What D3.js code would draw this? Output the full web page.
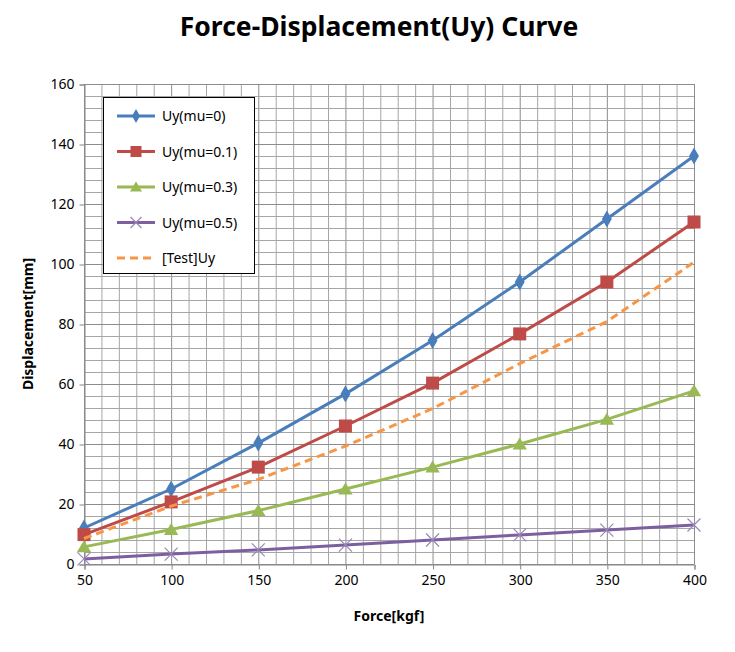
<!DOCTYPE html>
<html><head><meta charset="utf-8">
<script src="https://cdn.jsdelivr.net/npm/d3@7"></script>
<style>body{margin:0;background:#fff}svg{display:block}</style>
</head><body>
<svg id="c" width="735" height="652"></svg>
<script>
const forces = [50,100,150,200,250,300,350,400];
const uyMu0   = [12, 25, 40.3, 56.7, 74.5, 94, 115, 136];
const uyMu01  = [9.8, 20.7, 32.3, 46, 60.3, 76.7, 94, 114];
const uyMu03  = [5.7, 11.5, 17.8, 25, 32.3, 40, 48.2, 57.7];
const uyMu05  = [1.7, 3.3, 4.7, 6.3, 8, 9.7, 11.3, 13];
const testUy  = [8.5, 19.3, 28.2, 39.3, 51.8, 66.8, 80.8, 100.6];
const seriesNames = ["Uy(mu=0)","Uy(mu=0.1)","Uy(mu=0.3)","Uy(mu=0.5)","[Test]Uy"];
const xTicks = [50,100,150,200,250,300,350,400];
const yTicks = [0,20,40,60,80,100,120,140,160];

const series = [
  {name:seriesNames[0], vals:uyMu0, color:"#4A7EBB", marker:"diamond"},
  {name:seriesNames[1], vals:uyMu01, color:"#BE4B48", marker:"square"},
  {name:seriesNames[2], vals:uyMu03, color:"#98B954", marker:"triangle"},
  {name:seriesNames[3], vals:uyMu05, color:"#7D5FA0", marker:"x"},
  {name:seriesNames[4], vals:testUy, color:"#F79646", marker:"none", dash:"8,5"}
];

const svg = d3.select("#c");
const L=84, R=694, T=84, B=564;
const x = d3.scaleLinear().domain([50,400]).range([L,R]);
const y = d3.scaleLinear().domain([0,160]).range([B,T]);
const font = "'Noto Sans', 'Open Sans', sans-serif";

// grid
const g = svg.append("g");
g.selectAll("line.vx").data(d3.range(50,401,10)).enter().append("line")
  .attr("x1",d=>x(d)+0.5).attr("x2",d=>x(d)+0.5).attr("y1",T).attr("y2",B)
  .attr("stroke",d=>d%50===0?"#8c8c8c":"#a6a6a6").attr("stroke-width",1);
g.selectAll("line.hy").data(d3.range(0,161,4)).enter().append("line")
  .attr("y1",d=>y(d)+0.5).attr("y2",d=>y(d)+0.5).attr("x1",L).attr("x2",R)
  .attr("stroke",d=>d%20===0?"#8c8c8c":"#a6a6a6").attr("stroke-width",1);

// axes
const xAxis = d3.axisBottom(x).tickValues(xTicks).tickSize(5).tickPadding(6);
const yAxis = d3.axisLeft(y).tickValues(yTicks).tickSize(5).tickPadding(5);
const gx = svg.append("g").attr("transform",`translate(0.5,${B+0.5})`).call(xAxis);
const gy = svg.append("g").attr("transform",`translate(${L+0.5},0.5)`).call(yAxis);
[gx,gy].forEach(a=>{
  a.select(".domain").attr("stroke","#868686");
  a.selectAll(".tick line").attr("stroke","#868686");
  a.selectAll("text").attr("font-family",font).attr("font-size",14).attr("fill","#000");
});

// titles
svg.append("text").attr("x",379).attr("y",36).attr("text-anchor","middle")
  .attr("font-family",font).attr("font-weight","bold").attr("font-size",26.5).text("Force-Displacement(Uy) Curve");
svg.append("text").attr("x",389).attr("y",621).attr("text-anchor","middle")
  .attr("font-family",font).attr("font-weight","bold").attr("font-size",14).text("Force[kgf]");
svg.append("text").attr("transform","translate(33,324) rotate(-90)").attr("text-anchor","middle")
  .attr("font-family",font).attr("font-weight","bold").attr("font-size",14).text("Displacement[mm]");

function drawMarker(sel, type, color, size){
  if(type==="diamond"){
    sel.append("path").attr("d",d3.symbol(d3.symbolDiamond, size*size*0.7)()).attr("fill",color);
  } else if(type==="square"){
    sel.append("rect").attr("x",-size/2).attr("y",-size/2).attr("width",size).attr("height",size).attr("fill",color);
  } else if(type==="triangle"){
    sel.append("path").attr("d",`M0,${-size*0.55}L${size*0.6},${size*0.45}L${-size*0.6},${size*0.45}Z`).attr("fill",color);
  } else if(type==="x"){
    const s=size/2;
    sel.append("path").attr("d",`M${-s},${-s}L${s},${s}M${-s},${s}L${s},${-s}`).attr("stroke","#9a86b8").attr("stroke-width",1.2).attr("fill","none");
  }
}
const msize = {diamond:11, square:13, triangle:12, x:13};

const line = d3.line().x((d,i)=>x(forces[i])).y(d=>y(d));
const plot = svg.append("g");
series.forEach(s=>{
  const sg = plot.append("g");
  sg.append("path").attr("d",line(s.vals)).attr("fill","none").attr("stroke",s.color)
    .attr("stroke-width",3).attr("stroke-dasharray",s.dash||null).attr("stroke-linejoin","round");
  if(s.marker!=="none"){
    s.vals.forEach((v,i)=>{
      const m = sg.append("g").attr("transform",`translate(${x(forces[i])},${y(v)})`);
      drawMarker(m, s.marker, s.color, msize[s.marker]);
    });
  }
});

// legend
const lg = svg.append("g");
lg.append("rect").attr("x",103.5).attr("y",97.5).attr("width",151).attr("height",176)
  .attr("fill","#fff").attr("stroke","#000").attr("stroke-width",1);
series.forEach((s,i)=>{
  const yy = 116 + i*35.5;
  lg.append("line").attr("x1",117).attr("x2",155).attr("y1",yy).attr("y2",yy)
    .attr("stroke",s.color).attr("stroke-width",3).attr("stroke-dasharray",s.dash||null);
  if(s.marker!=="none"){
    const m = lg.append("g").attr("transform",`translate(136,${yy})`);
    drawMarker(m, s.marker, s.color, msize[s.marker]-2);
  }
  lg.append("text").attr("x",162).attr("y",yy+5).attr("font-family",font).attr("font-size",14).text(s.name);
});
</script>
</body></html>
